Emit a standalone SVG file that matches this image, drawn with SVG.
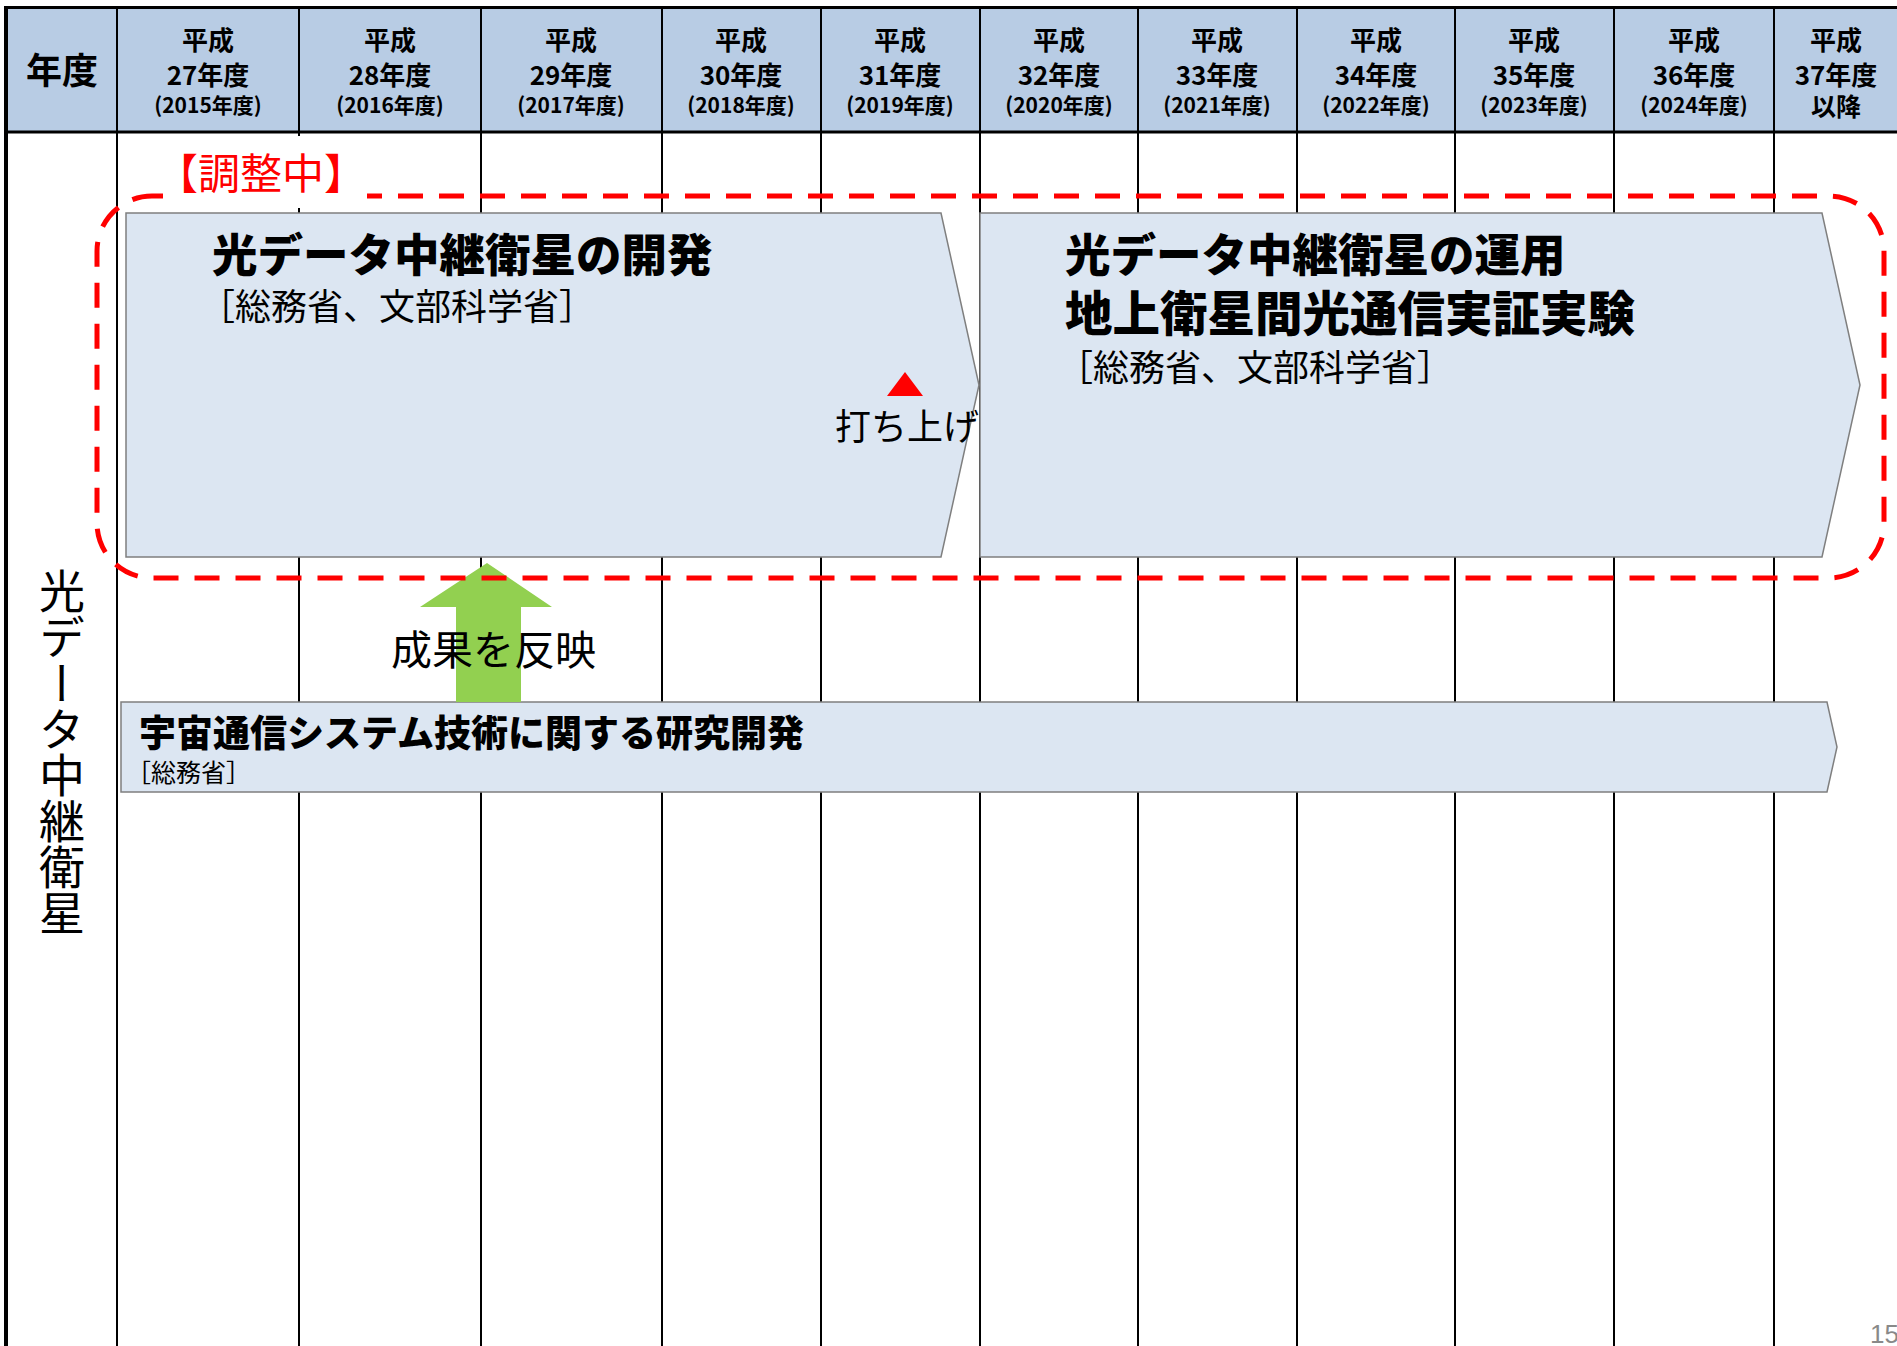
<svg xmlns="http://www.w3.org/2000/svg" width="1897" height="1346" viewBox="0 0 1897 1346">
<style>
.hdr{font-family:"Noto Sans CJK JP","Noto Sans",sans-serif;font-weight:bold;fill:#000;text-anchor:middle}
.jp{font-family:"Noto Sans CJK JP","Noto Sans",sans-serif;fill:#000}
.b{font-weight:900}
.grid{stroke:#000;stroke-width:2;fill:none}
.box{fill:#DCE6F2;stroke:#7F7F7F;stroke-width:1.5}
</style>
<rect x="0" y="0" width="1897" height="1346" fill="#FFFFFF"/>
<g id="header">
<rect x="6" y="8" width="1891" height="124" fill="#B8CCE4"/>
<text class="hdr" x="62" y="84" font-size="36">年度</text>
<g font-size="26">
<text class="hdr" x="208" y="50">平成</text><text class="hdr" x="208" y="85">27年度</text><text class="hdr" x="208" y="113" font-size="21">(2015年度)</text>
<text class="hdr" x="390" y="50">平成</text><text class="hdr" x="390" y="85">28年度</text><text class="hdr" x="390" y="113" font-size="21">(2016年度)</text>
<text class="hdr" x="571" y="50">平成</text><text class="hdr" x="571" y="85">29年度</text><text class="hdr" x="571" y="113" font-size="21">(2017年度)</text>
<text class="hdr" x="741" y="50">平成</text><text class="hdr" x="741" y="85">30年度</text><text class="hdr" x="741" y="113" font-size="21">(2018年度)</text>
<text class="hdr" x="900" y="50">平成</text><text class="hdr" x="900" y="85">31年度</text><text class="hdr" x="900" y="113" font-size="21">(2019年度)</text>
<text class="hdr" x="1059" y="50">平成</text><text class="hdr" x="1059" y="85">32年度</text><text class="hdr" x="1059" y="113" font-size="21">(2020年度)</text>
<text class="hdr" x="1217" y="50">平成</text><text class="hdr" x="1217" y="85">33年度</text><text class="hdr" x="1217" y="113" font-size="21">(2021年度)</text>
<text class="hdr" x="1376" y="50">平成</text><text class="hdr" x="1376" y="85">34年度</text><text class="hdr" x="1376" y="113" font-size="21">(2022年度)</text>
<text class="hdr" x="1534" y="50">平成</text><text class="hdr" x="1534" y="85">35年度</text><text class="hdr" x="1534" y="113" font-size="21">(2023年度)</text>
<text class="hdr" x="1694" y="50">平成</text><text class="hdr" x="1694" y="85">36年度</text><text class="hdr" x="1694" y="113" font-size="21">(2024年度)</text>
<text class="hdr" x="1836" y="50">平成</text><text class="hdr" x="1836" y="85">37年度</text><text class="hdr" x="1836" y="116" font-size="25">以降</text>
</g>
</g>
<g id="grid">
<line class="grid" x1="117" y1="8" x2="117" y2="1346"/>
<line class="grid" x1="299" y1="8" x2="299" y2="1346"/>
<line class="grid" x1="481" y1="8" x2="481" y2="1346"/>
<line class="grid" x1="662" y1="8" x2="662" y2="1346"/>
<line class="grid" x1="821" y1="8" x2="821" y2="1346"/>
<line class="grid" x1="980" y1="8" x2="980" y2="1346"/>
<line class="grid" x1="1138" y1="8" x2="1138" y2="1346"/>
<line class="grid" x1="1297" y1="8" x2="1297" y2="1346"/>
<line class="grid" x1="1455" y1="8" x2="1455" y2="1346"/>
<line class="grid" x1="1614" y1="8" x2="1614" y2="1346"/>
<line class="grid" x1="1774" y1="8" x2="1774" y2="1346"/>
<line x1="4" y1="7.5" x2="1897" y2="7.5" stroke="#000" stroke-width="3"/>
<line x1="4" y1="132" x2="1897" y2="132" stroke="#000" stroke-width="3"/>
<line x1="6" y1="6" x2="6" y2="1346" stroke="#000" stroke-width="4"/>
</g>
<g id="row-label">
<text class="jp" x="62" y="752" font-size="46" text-anchor="middle" style="writing-mode:vertical-rl">光データ中継衛星</text>
</g>
<g id="node-dev">
<polygon class="box" points="126,213 941,213 979,385 941,557 126,557"/>
<text class="jp b" x="212" y="272" font-size="45.5">光データ中継衛星の開発</text>
<text class="jp" x="199" y="320" font-size="36">［総務省、文部科学省］</text>
</g>
<g id="node-ops">
<polygon class="box" points="980,213 1822,213 1860,385 1822,557 980,557"/>
<text class="jp b" x="1065" y="272" font-size="45.5">光データ中継衛星の運用</text>
<text class="jp b" x="1065" y="331" font-size="47.5">地上衛星間光通信実証実験</text>
<text class="jp" x="1057" y="381" font-size="36">［総務省、文部科学省］</text>
</g>
<g id="node-launch">
<polygon points="905,372 923,396 887,396" fill="#FF0000"/>
<text class="jp" x="835" y="440" font-size="36">打ち上げ</text>
</g>
<g id="node-rd">
<polygon class="box" points="121,702 1827,702 1837,747 1827,792 121,792"/>
<text class="jp b" x="139" y="747" font-size="37">宇宙通信システム技術に関する研究開発</text>
<text class="jp" x="126" y="782" font-size="25">［総務省］</text>
</g>
<g id="connectors">
<polygon points="487,563 552,607 521,607 521,702 456,702 456,607 420,607" fill="#92D050"/>
<text class="jp" x="391" y="665" font-size="41">成果を反映</text>
</g>
<g id="group-adjusting">
<rect x="97" y="196" width="1787" height="382" rx="55" ry="55" fill="none" stroke="#FF0000" stroke-width="5" stroke-dasharray="25 16"/>
<rect x="163" y="136" width="204" height="72" fill="#FFFFFF"/>
<text class="jp" x="156" y="189" font-size="42" style="fill:#FF0000">【調整中】</text>
</g>
<text x="1870" y="1343" font-family="Liberation Sans, sans-serif" font-size="26" fill="#898989">15</text>
</svg>
